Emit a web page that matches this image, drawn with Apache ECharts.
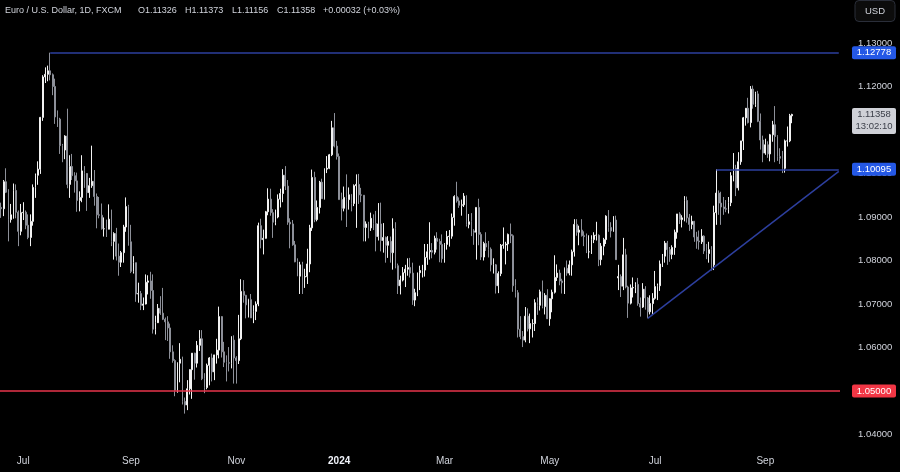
<!DOCTYPE html>
<html><head><meta charset="utf-8">
<script src="https://cdn.jsdelivr.net/npm/echarts/dist/echarts.min.js"></script>
<style>html,body{margin:0;padding:0;background:#000;}#c{width:900px;height:472px;}</style>
</head><body><div id="c"></div>
<script>
// Daily bars, each [open, high, low, close]
const jun2023 = [
[1.0922,1.0933,1.0898,1.0919],[1.0919,1.0985,1.0902,1.0981],[1.0981,1.1012,1.0955,1.0957],
[1.0957,1.0964,1.0844,1.0894],[1.0894,1.0930,1.0887,1.0905],[1.0905,1.0977,1.0896,1.0961],
[1.0961,1.0975,1.0897,1.0911],[1.0911,1.0915,1.0833,1.0867],[1.0867,1.0930,1.0858,1.0910]];
const jul2023 = [
[1.0910,1.0934,1.0893,1.0911],[1.0911,1.0915,1.0872,1.0881],[1.0881,1.0906,1.0849,1.0853],
[1.0853,1.0906,1.0833,1.0890],[1.0890,1.0975,1.0880,1.0968],[1.0968,1.1000,1.0944,1.0996],
[1.0996,1.1028,1.0974,1.1010],[1.1010,1.1130,1.0999,1.1129],[1.1129,1.1226,1.1121,1.1222],
[1.1222,1.1244,1.1208,1.1228],[1.1228,1.1248,1.1212,1.1236],[1.1236,1.12778,1.1214,1.1227],
[1.1227,1.1230,1.1180,1.1200],[1.1200,1.1218,1.1114,1.1130],[1.1130,1.1145,1.1107,1.1125],
[1.1125,1.1128,1.1045,1.1064],[1.1064,1.1068,1.1026,1.1054],[1.1054,1.1088,1.1033,1.1086],
[1.1086,1.1149,1.0966,1.0975],[1.0975,1.1042,1.0944,1.1016],[1.1016,1.1045,1.0985,1.0995]];
const aug2023 = [
[1.0995,1.1003,1.0956,1.0983],[1.0983,1.1002,1.0912,1.0938],[1.0938,1.0959,1.0913,1.0945],
[1.0945,1.1042,1.0934,1.1006],[1.1006,1.1017,1.0967,1.1000],[1.1000,1.1001,1.0914,1.0956],
[1.0956,1.0990,1.0944,1.0972],[1.0972,1.1064,1.0967,1.0982],[1.0982,1.1008,1.0926,1.0947],
[1.0947,1.0954,1.0874,1.0905],[1.0905,1.0946,1.0897,1.0904],[1.0904,1.0931,1.0871,1.0873],
[1.0873,1.0899,1.0855,1.0873],[1.0873,1.0894,1.0854,1.0872],[1.0872,1.0929,1.0873,1.0895],
[1.0895,1.0917,1.0833,1.0844],[1.0844,1.0865,1.0802,1.0862],[1.0862,1.0875,1.0800,1.0810],
[1.0810,1.0839,1.0765,1.0796],[1.0796,1.0822,1.0785,1.0818],[1.0818,1.0882,1.0795,1.0877],
[1.0877,1.0945,1.0866,1.0924],[1.0924,1.0928,1.0834,1.0843]];
const sep2023 = [
[1.0843,1.0882,1.0771,1.0775],[1.0775,1.0810,1.0770,1.0795],[1.0795,1.0795,1.0705,1.0723],
[1.0723,1.0749,1.0703,1.0724],[1.0724,1.0730,1.0686,1.0697],[1.0697,1.0715,1.0686,1.0700],
[1.0700,1.0768,1.0699,1.0750],[1.0750,1.0766,1.0722,1.0753],[1.0753,1.0774,1.0712,1.0731],
[1.0731,1.0768,1.0632,1.0642],[1.0642,1.0673,1.0630,1.0657],[1.0657,1.0700,1.0658,1.0690],
[1.0690,1.0718,1.0675,1.0679],[1.0679,1.0737,1.0663,1.0665],[1.0665,1.0669,1.0617,1.0659],
[1.0659,1.0672,1.0615,1.0645],[1.0645,1.0655,1.0574,1.0590],[1.0590,1.0605,1.0565,1.0570],
[1.0570,1.0573,1.0488,1.0502],[1.0502,1.0566,1.0496,1.0564],[1.0564,1.0610,1.0520,1.0573]];
const oct2023 = [
[1.0573,1.0579,1.0469,1.0476],[1.0476,1.0485,1.0448,1.0468],[1.0468,1.0525,1.0456,1.0505],
[1.0505,1.0550,1.0492,1.0549],[1.0549,1.0587,1.0482,1.0587],[1.0587,1.0588,1.0526,1.0564],
[1.0564,1.0615,1.0554,1.0605],[1.0605,1.0640,1.0592,1.0620],[1.0620,1.0640,1.0525,1.0528],
[1.0528,1.0541,1.0495,1.0508],[1.0508,1.0563,1.0504,1.0559],[1.0559,1.0578,1.0513,1.0576],
[1.0576,1.0586,1.0522,1.0544],[1.0544,1.0580,1.0525,1.0583],[1.0583,1.0620,1.0563,1.0594],
[1.0594,1.0694,1.0575,1.0671],[1.0671,1.0672,1.0577,1.0590],[1.0590,1.0613,1.0555,1.0566],
[1.0566,1.0582,1.0522,1.0565],[1.0565,1.0601,1.0545,1.0564],[1.0564,1.0626,1.0552,1.0617],
[1.0617,1.0628,1.0517,1.0576]];
const nov2023 = [
[1.0576,1.0580,1.0517,1.0570],[1.0570,1.0675,1.0562,1.0620],[1.0620,1.0757,1.0617,1.0729],
[1.0729,1.0755,1.0703,1.0720],[1.0720,1.0721,1.0667,1.0698],[1.0698,1.0712,1.0669,1.0710],
[1.0710,1.0723,1.0668,1.0668],[1.0668,1.0697,1.0656,1.0683],[1.0683,1.0706,1.0663,1.0700],
[1.0700,1.0887,1.0695,1.0880],[1.0880,1.0896,1.0828,1.0848],[1.0848,1.0871,1.0814,1.0851],
[1.0851,1.0914,1.0852,1.0912],[1.0912,1.0966,1.0904,1.0941],[1.0941,1.0965,1.0903,1.0910],
[1.0910,1.0918,1.0852,1.0888],[1.0888,1.0917,1.0881,1.0900],[1.0900,1.0952,1.0897,1.0941],
[1.0941,1.0965,1.0922,1.0954],[1.0954,1.1010,1.0934,1.0996],[1.0996,1.1017,1.0962,1.0971],
[1.0971,1.0985,1.0882,1.0888]];
const dec2023 = [
[1.0888,1.0897,1.0828,1.0884],[1.0884,1.0893,1.0834,1.0836],[1.0836,1.0845,1.0796,1.0797],
[1.0797,1.0805,1.0764,1.0764],[1.0764,1.0797,1.0723,1.0790],[1.0790,1.0797,1.0723,1.0762],
[1.0762,1.0781,1.0737,1.0763],[1.0763,1.0827,1.0746,1.0792],[1.0792,1.0882,1.0773,1.0875],
[1.0875,1.1009,1.0868,1.0991],[1.0991,1.1004,1.0888,1.0894],[1.0894,1.0938,1.0890,1.0922],
[1.0922,1.0983,1.0908,1.0980],[1.0980,1.0988,1.0942,1.0942],[1.0942,1.1012,1.0940,1.1010],
[1.1010,1.1040,1.1001,1.1012],[1.1012,1.1045,1.1010,1.1043],[1.1043,1.1121,1.1040,1.1105],
[1.1105,1.1139,1.1060,1.1063],[1.1063,1.1075,1.1032,1.1039]];
const jan2024 = [
[1.1039,1.1046,1.0940,1.0940],[1.0940,1.0956,1.0892,1.0920],[1.0920,1.0970,1.0913,1.0945],
[1.0945,1.0998,1.0877,1.0940],[1.0940,1.0968,1.0917,1.0951],[1.0951,1.0953,1.0913,1.0931],
[1.0931,1.0975,1.0925,1.0972],[1.0972,1.0998,1.0875,1.0975],[1.0975,1.0999,1.0930,1.0951],
[1.0951,1.0967,1.0934,1.0950],[1.0950,1.0950,1.0844,1.0876],[1.0876,1.0890,1.0844,1.0884],
[1.0884,1.0889,1.0851,1.0875],[1.0875,1.0910,1.0868,1.0897],[1.0897,1.0906,1.0870,1.0885],
[1.0885,1.0914,1.0821,1.0855],[1.0855,1.0932,1.0846,1.0884],[1.0884,1.0933,1.0821,1.0846],
[1.0846,1.0886,1.0818,1.0853],[1.0853,1.0855,1.0795,1.0835],[1.0835,1.0856,1.0806,1.0844],
[1.0844,1.0855,1.0795,1.0818]];
const feb2024 = [
[1.0818,1.0897,1.0779,1.0873],[1.0873,1.0888,1.0782,1.0788],[1.0788,1.0793,1.0723,1.0742],
[1.0742,1.0765,1.0722,1.0755],[1.0755,1.0785,1.0752,1.0772],[1.0772,1.0790,1.0739,1.0780],
[1.0780,1.0805,1.0765,1.0784],[1.0784,1.0806,1.0761,1.0771],[1.0771,1.0795,1.0698,1.0709],
[1.0709,1.0735,1.0695,1.0726],[1.0726,1.0772,1.0718,1.0772],[1.0772,1.0788,1.0732,1.0777],
[1.0777,1.0790,1.0761,1.0778],[1.0778,1.0838,1.0763,1.0807],[1.0807,1.0838,1.0790,1.0820],
[1.0820,1.0888,1.0802,1.0823],[1.0823,1.0840,1.0805,1.0819],[1.0819,1.0857,1.0814,1.0851],
[1.0851,1.0865,1.0825,1.0844],[1.0844,1.0850,1.0796,1.0837],[1.0837,1.0860,1.0795,1.0804]];
const mar2024 = [
[1.0804,1.0840,1.0795,1.0837],[1.0837,1.0868,1.0825,1.0855],[1.0855,1.0870,1.0832,1.0856],
[1.0856,1.0908,1.0850,1.0899],[1.0899,1.0950,1.0880,1.0947],[1.0947,1.0981,1.0933,1.0937],
[1.0937,1.0945,1.0921,1.0927],[1.0927,1.0940,1.0903,1.0928],[1.0928,1.0955,1.0923,1.0948],
[1.0948,1.0950,1.0878,1.0883],[1.0883,1.0907,1.0874,1.0889],[1.0889,1.0909,1.0856,1.0868],
[1.0868,1.0872,1.0836,1.0865],[1.0865,1.0922,1.0802,1.0922],[1.0922,1.0942,1.0835,1.0860],
[1.0860,1.0865,1.0801,1.0808],[1.0808,1.0843,1.0800,1.0839],[1.0839,1.0865,1.0822,1.0831],
[1.0831,1.0845,1.0807,1.0826],[1.0826,1.0830,1.0775,1.0790],[1.0790,1.0805,1.0770,1.0790]];
const apr2024 = [
[1.0790,1.0792,1.0724,1.0742],[1.0742,1.0775,1.0725,1.0770],[1.0770,1.0838,1.0764,1.0835],
[1.0835,1.0876,1.0827,1.0836],[1.0836,1.0843,1.0791,1.0838],[1.0838,1.0862,1.0822,1.0860],
[1.0860,1.0885,1.0840,1.0857],[1.0857,1.0860,1.0728,1.0742],[1.0742,1.0757,1.0715,1.0726],
[1.0726,1.0732,1.0623,1.0642],[1.0642,1.0672,1.0619,1.0625],[1.0625,1.0638,1.0601,1.0617],
[1.0617,1.0693,1.0612,1.0672],[1.0672,1.0690,1.0637,1.0643],[1.0643,1.0678,1.0610,1.0655],
[1.0655,1.0665,1.0623,1.0655],[1.0655,1.0711,1.0638,1.0703],[1.0703,1.0715,1.0675,1.0697],
[1.0697,1.0733,1.0685,1.0728],[1.0728,1.0754,1.0690,1.0694],[1.0694,1.0725,1.0676,1.0720],
[1.0720,1.0734,1.0668,1.0666]];
const may2024 = [
[1.0666,1.0713,1.0650,1.0712],[1.0712,1.0733,1.0681,1.0727],[1.0727,1.0812,1.0724,1.0761],
[1.0761,1.0791,1.0753,1.0771],[1.0771,1.0779,1.0743,1.0753],[1.0753,1.0758,1.0724,1.0749],
[1.0749,1.0784,1.0723,1.0782],[1.0782,1.0800,1.0765,1.0771],[1.0771,1.0800,1.0766,1.0790],
[1.0790,1.0825,1.0765,1.0820],[1.0820,1.0895,1.0809,1.0883],[1.0883,1.0895,1.0857,1.0865],
[1.0865,1.0880,1.0835,1.0870],[1.0870,1.0895,1.0855,1.0857],[1.0857,1.0867,1.0833,1.0855],
[1.0855,1.0862,1.0817,1.0820],[1.0820,1.0858,1.0805,1.0820],[1.0820,1.0858,1.0815,1.0848],
[1.0848,1.0865,1.0840,1.0858],[1.0858,1.0889,1.0846,1.0858],[1.0858,1.0860,1.0787,1.0802],
[1.0802,1.0840,1.0789,1.0833],[1.0833,1.0852,1.0812,1.0848]];
const jun2024 = [
[1.0848,1.0904,1.0838,1.0902],[1.0902,1.0916,1.0866,1.0876],[1.0876,1.0888,1.0853,1.0868],
[1.0868,1.0902,1.0866,1.0893],[1.0893,1.0903,1.0802,1.0802],[1.0760,1.0790,1.0732,1.0763],
[1.0763,1.0768,1.0716,1.0741],[1.0741,1.0852,1.0732,1.0813],[1.0813,1.0827,1.0736,1.0739],
[1.0739,1.0742,1.0668,1.0702],[1.0702,1.0745,1.0699,1.0737],[1.0737,1.0761,1.0715,1.0738],
[1.0738,1.0750,1.0725,1.0745],[1.0745,1.0760,1.0696,1.0701],[1.0701,1.0715,1.0671,1.0693],
[1.0693,1.0748,1.0691,1.0734],[1.0734,1.0741,1.0687,1.0714],[1.0714,1.0716,1.0667,1.0682],
[1.0682,1.0720,1.0676,1.0701],[1.0701,1.0725,1.0676,1.0713]];
const jul2024 = [
[1.0713,1.0776,1.0710,1.0740],[1.0740,1.0747,1.0709,1.0742],[1.0742,1.0800,1.0730,1.0792],
[1.0792,1.0815,1.0785,1.0810],[1.0810,1.0845,1.0795,1.0840],[1.0840,1.0845,1.0790,1.0825],
[1.0825,1.0831,1.0797,1.0814],[1.0814,1.0835,1.0803,1.0830],[1.0830,1.0871,1.0813,1.0865],
[1.0865,1.0907,1.0850,1.0907],[1.0907,1.0911,1.0884,1.0894],[1.0894,1.0904,1.0876,1.0898],
[1.0898,1.0948,1.0890,1.0938],[1.0938,1.0947,1.0887,1.0898],[1.0898,1.0907,1.0868,1.0883],
[1.0883,1.0903,1.0872,1.0890],[1.0890,1.0891,1.0843,1.0854],[1.0854,1.0866,1.0827,1.0845],
[1.0845,1.0869,1.0825,1.0843],[1.0843,1.0872,1.0838,1.0856],[1.0856,1.0858,1.0815,1.0822],
[1.0822,1.0838,1.0803,1.0816],[1.0816,1.0843,1.0795,1.0825]];
const aug2024 = [
[1.0825,1.0833,1.0777,1.0790],[1.0790,1.0926,1.0778,1.0910],[1.0910,1.10095,1.0882,1.0955],
[1.0955,1.0961,1.0905,1.0932],[1.0932,1.0958,1.0882,1.0923],[1.0923,1.0946,1.0905,1.0919],
[1.0919,1.0939,1.0911,1.0918],[1.0918,1.0946,1.0908,1.0933],[1.0933,1.1003,1.0925,1.0995],
[1.0995,1.1047,1.0982,1.1012],[1.1012,1.1020,1.0948,1.0967],[1.0967,1.1049,1.0961,1.1027],
[1.1027,1.1075,1.1020,1.1075],[1.1075,1.1130,1.1054,1.1128],[1.1128,1.1150,1.1110,1.1150],
[1.1150,1.1174,1.1115,1.1117],[1.1117,1.1201,1.1106,1.1194],[1.1194,1.1202,1.1149,1.1159],
[1.1159,1.1188,1.1153,1.1183],[1.1183,1.1190,1.1118,1.1120],[1.1120,1.1138,1.1055,1.1077],
[1.1077,1.1087,1.1026,1.1047]];
const sep2024 = [
[1.1047,1.1080,1.1043,1.1066],[1.1066,1.1074,1.1036,1.1045],[1.1045,1.1091,1.1028,1.1089],
[1.1089,1.1121,1.1073,1.1112],[1.1112,1.1155,1.1026,1.1085],[1.1085,1.1088,1.1029,1.1039],
[1.1039,1.1058,1.1022,1.1035],[1.1035,1.1052,1.1001,1.1012],[1.1012,1.1078,1.1002,1.1075],
[1.1075,1.1108,1.1062,1.1075],[1.1075,1.1137,1.1072,1.1133],[1.11326,1.11373,1.11156,1.11358]];

// Calendar
const firstDate = '2023-06-20';
const holidays = ['2023-12-25', '2024-01-01'];
const blankBars = 19;

// X tick labels
const xTickDates = ['2023-07-03','2023-09-01','2023-11-01','2024-01-02','2024-03-01','2024-05-01','2024-07-01','2024-09-02'];
const xTickLabels = ['Jul','Sep','Nov','2024','Mar','May','Jul','Sep'];

// Y ticks
const yMin = 1.04, yMax = 1.13, yStep = 0.01;

// Annotations
const levelTop = 1.12778, levelTopFrom = '2023-07-18';
const levelMid = 1.10095, levelMidFrom = '2024-08-05';
const levelLow = 1.05;
const trendFromDate = '2024-06-26', trendFromValue = 1.0667, trendToValue = 1.1005;
const countdown = '13:02:10';

// Header
const headerName = 'Euro / U.S. Dollar, 1D, FXCM';
const headerO = 'O1.11326', headerH = 'H1.11373', headerL = 'L1.11156', headerC = 'C1.11358';
const headerChg = '+0.00032 (+0.03%)';

function buildDates(start, count) {
  const out = [];
  const d = new Date(start + 'T00:00:00Z');
  while (out.length < count) {
    const wd = d.getUTCDay();
    const s = d.toISOString().slice(0, 10);
    if (wd !== 0 && wd !== 6 && holidays.indexOf(s) < 0) out.push(s);
    d.setUTCDate(d.getUTCDate() + 1);
  }
  return out;
}

const months = [jun2023, jul2023, aug2023, sep2023, oct2023, nov2023, dec2023, jan2024, feb2024, mar2024, apr2024, may2024, jun2024, jul2024, aug2024, sep2024];
const bars = [].concat.apply([], months);
const dates = buildDates(firstDate, bars.length + blankBars);
const lastCat = dates[dates.length - 1];
const candleData = bars.map(b => [b[0], b[3], b[2], b[1]]);
const lastClose = bars[bars.length - 1][3];

const FONT = '"Liberation Sans", Arial, sans-serif';
const TXT = '#d1d4dc';
const BLUE_LINE = '#2d3f9e';
const RED_LINE = '#e8354b';

const chart = echarts.init(document.getElementById('c'), null, { renderer: 'canvas' });

const option = {
  backgroundColor: '#000000',
  animation: false,
  grid: { left: 0, right: 60, top: 43, bottom: 37.5 },
  xAxis: {
    type: 'category',
    data: dates,
    boundaryGap: true,
    axisLine: { show: false },
    axisTick: { show: false },
    splitLine: { show: false },
    axisLabel: {
      color: TXT, fontFamily: FONT, fontSize: 10, margin: 22,
      interval: (i, v) => xTickDates.indexOf(v) >= 0,
      formatter: v => {
        const k = xTickDates.indexOf(v);
        if (k < 0) return '';
        const t = xTickLabels[k];
        return /^\d{4}$/.test(t) ? '{b|' + t + '}' : t;
      },
      rich: { b: { color: '#f0f3fa', fontWeight: 'bold', fontFamily: FONT, fontSize: 10 } }
    }
  },
  yAxis: {
    type: 'value', position: 'right', scale: true,
    min: yMin, max: yMax, interval: yStep,
    axisLine: { show: false }, axisTick: { show: false }, splitLine: { show: false },
    axisLabel: { color: TXT, fontFamily: FONT, fontSize: 9.5, margin: 18, formatter: v => v.toFixed(5) }
  },
  series: [{
    type: 'candlestick',
    data: candleData,
    barWidth: '55%',
    z: 3,
    itemStyle: { color: '#f2f2f2', color0: '#8d9099', borderColor: '#f2f2f2', borderColor0: '#8d9099', borderWidth: 1 },
    markLine: {
      silent: true, symbol: ['none', 'none'], animation: false,
      label: { show: false },
      lineStyle: { color: BLUE_LINE, width: 1.5, type: 'solid', opacity: 1 },
      emphasis: { disabled: true },
      data: [
        [{ coord: [levelTopFrom, levelTop] }, { coord: [lastCat, levelTop] }],
        [{ coord: [levelMidFrom, levelMid] }, { coord: [lastCat, levelMid] }],
        [{ coord: [trendFromDate, trendFromValue] }, { coord: [lastCat, trendToValue] }]
      ]
    }
  }, {
    type: 'line',
    data: [],
    z: 2,
    markLine: {
      silent: true, symbol: ['none', 'none'], animation: false,
      label: { show: false },
      lineStyle: { color: RED_LINE, width: 1.5, type: 'solid', opacity: 1 },
      emphasis: { disabled: true },
      data: [{ yAxis: levelLow }]
    }
  }]
};
chart.setOption(option);

function tag(value, fill, textColor, lines) {
  const y = chart.convertToPixel({ yAxisIndex: 0 }, value);
  const h = lines.length === 1 ? 13 : 26;
  const els = [{
    type: 'rect', z: 100,
    shape: { x: 852, y: y - 6.5, width: 44, height: h, r: 2 },
    style: { fill: fill }
  }];
  lines.forEach((t, i) => {
    els.push({
      type: 'text', z: 101,
      style: { text: t, x: 874, y: y + i * 12, fill: textColor, align: 'center', verticalAlign: 'middle', fontFamily: FONT, fontSize: 9.5 }
    });
  });
  return els;
}

function hText(t, x) {
  return { type: 'text', z: 100, style: { text: t, x: x, y: 10.5, fill: TXT, align: 'left', verticalAlign: 'middle', fontFamily: FONT, fontSize: 9 } };
}

const graphics = [].concat(
  [hText(headerName, 5), hText(headerO, 138), hText(headerH, 185), hText(headerL, 232), hText(headerC, 277), hText(headerChg, 323)],
  [{ type: 'rect', z: 100, shape: { x: 855, y: 0.5, width: 40, height: 21, r: 4 }, style: { fill: '#0c0c0c', stroke: '#2a2e39', lineWidth: 1 } },
   { type: 'text', z: 101, style: { text: 'USD', x: 875, y: 11, fill: TXT, align: 'center', verticalAlign: 'middle', fontFamily: FONT, fontSize: 9.5 } }],
  tag(levelTop, '#2458e6', '#ffffff', [levelTop.toFixed(5)]),
  tag(levelMid, '#2458e6', '#ffffff', [levelMid.toFixed(5)]),
  tag(levelLow, '#f23645', '#ffffff', [levelLow.toFixed(5)]),
  tag(lastClose, '#cfd1d7', '#3b3f49', [lastClose.toFixed(5), countdown])
);
chart.setOption({ graphic: graphics });
</script>
</body></html>
